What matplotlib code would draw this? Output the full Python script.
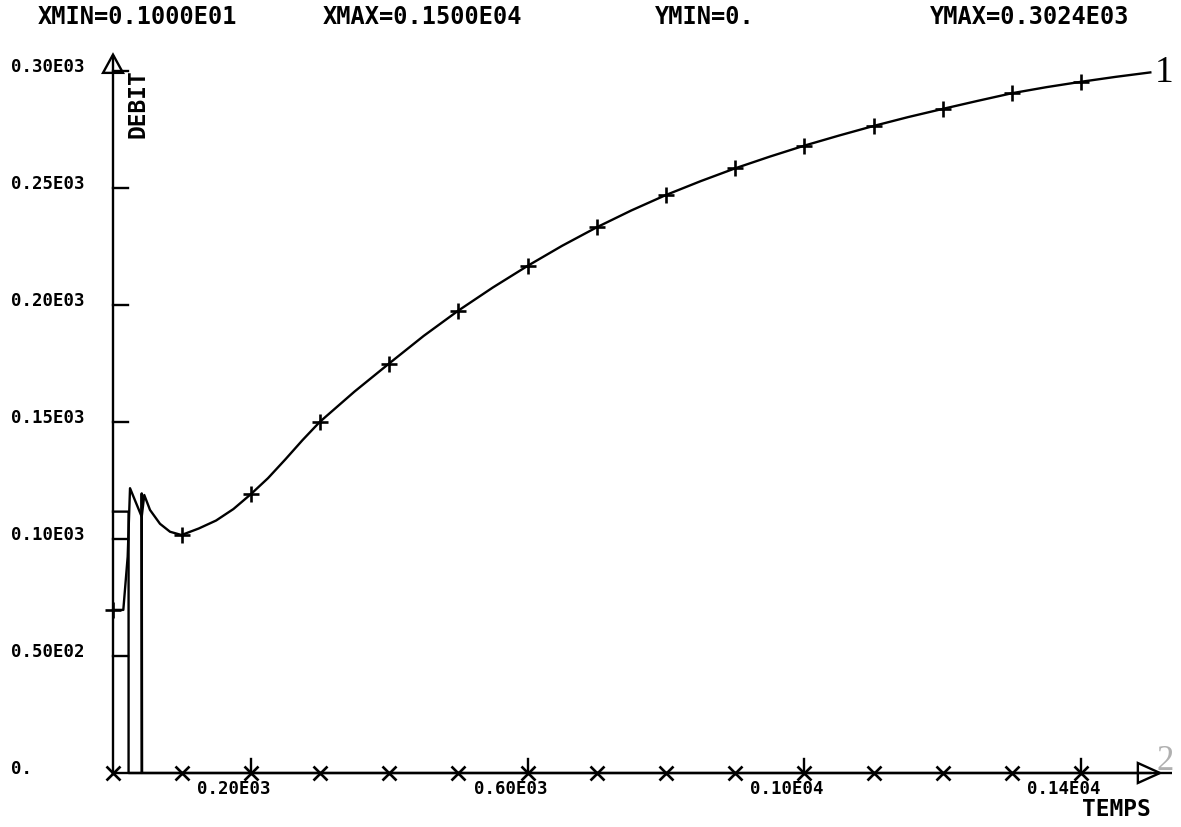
import matplotlib
matplotlib.use("Agg")
import matplotlib.pyplot as plt
from matplotlib.patches import Polygon

HEADER = ["XMIN=0.1000E01", "XMAX=0.1500E04", "YMIN=0.", "YMAX=0.3024E03"]
HEADER_X = [38, 323, 655, 930]          # left edge, pixels

# curve 1: DEBIT vs TEMPS
t1 = [1, 15.9, 22.2, 25.6, 42.5, 46.2, 54.5, 68.9, 83.4, 100, 125, 150, 175,
      200, 225, 250, 275, 300, 350, 400, 450, 500, 550, 600, 650, 700, 750,
      800, 850, 900, 950, 1000, 1050, 1100, 1150, 1200, 1250, 1300, 1350,
      1400, 1450, 1500]
v1 = [69.7, 69.7, 92.4, 121.7, 109.5, 118.8, 112.4, 106.5, 103.1, 101.7,
      104.5, 107.9, 112.8, 119.1, 126.0, 134.0, 142.3, 150.1, 163.0, 175.0,
      186.8, 197.6, 207.5, 216.7, 225.3, 233.2, 240.4, 247.0, 252.9, 258.4,
      263.4, 268.1, 272.4, 276.5, 280.3, 283.8, 287.2, 290.5, 293.1, 295.4,
      297.5, 299.4]

# curve 2: drops to zero after the first instants
t2 = [1, 23.5, 23.5, 42.5, 42.5, 43, 1500]
v2 = [111.7, 111.7, 0, 0, 119.5, 0, 0]

# symbols drawn every 100 time units
mark_t = [1, 100, 200, 300, 400, 500, 600, 700, 800, 900, 1000, 1100, 1200,
          1300, 1400]
mark_v1 = [69.7, 101.7, 119.1, 150.1, 175.0, 197.6, 216.7, 233.2, 247.0,
           258.4, 268.1, 276.5, 283.8, 290.5, 295.4]
mark_v2 = [0] * len(mark_t)

y_ticks = [0, 50, 100, 150, 200, 250, 300]
y_labels = ["0.", "0.50E02", "0.10E03", "0.15E03", "0.20E03", "0.25E03", "0.30E03"]
x_ticks = [200, 600, 1000, 1400]
x_labels = ["0.20E03", "0.60E03", "0.10E04", "0.14E04"]

# ── Page geometry: plotter frame in pixels ───────────────────────────────────

W, H = 1181, 827
X0_PX, Y0_PX = 113, 773      # where (t=1, debit=0) sits
SX, SY = 0.692, 2.34         # pixels per unit
TX = 1 / SX                  # units per pixel
TY = 1 / SY

fig = plt.figure(figsize=(W / 100, H / 100), dpi=100, facecolor="white")
ax = fig.add_axes([0, 0, 1, 1])
ax.set_xlim(1 - X0_PX * TX, 1 + (W - X0_PX) * TX)
ax.set_ylim(-(H - Y0_PX) * TY, Y0_PX * TY)
ax.axis("off")

MONO = "DejaVu Sans Mono"
LW = 1.7

# axes
y_top = 307
x_end = 1531
ax.plot([1, 1], [0, y_top], color="black", lw=LW, solid_capstyle="butt")
ax.plot([1, x_end], [0, 0], color="black", lw=LW, solid_capstyle="butt")

# arrow heads (open triangles)
ax.add_patch(Polygon([[1 - 10 * TX, 299.2], [1, y_top], [1 + 10 * TX, 299.2]],
                     closed=True, fill=False, ec="black", lw=LW))
ax.add_patch(Polygon([[1482, -10 * TY], [1514, 0], [1482, 10 * TY]],
                     closed=True, fill=False, ec="black", lw=LW))

# ticks
for yv in y_ticks[1:]:
    ax.plot([1, 1 + 15 * TX], [yv, yv], color="black", lw=LW)
for xv in x_ticks:
    ax.plot([xv, xv], [0, 14 * TY], color="black", lw=LW)

# tick labels
for yv, lab in zip(y_ticks, y_labels):
    ax.text(1 - 102 * TX, yv + 4 * TY, lab, fontsize=12.5, family=MONO,
            fontweight="bold", ha="left", va="center")
for xv, lab in zip(x_ticks, x_labels):
    ax.text(xv - 54 * TX, -16 * TY, lab, fontsize=12.5, family=MONO,
            fontweight="bold", ha="left", va="center")

# axis titles
ax.text(1 + 25 * TX, 300 - 33 * TY, "DEBIT", rotation=90, fontsize=16.5,
        family=MONO, fontweight="bold", ha="center", va="center")
ax.text(1 + 1003 * TX, -37 * TY, "TEMPS", fontsize=16.5, family=MONO,
        fontweight="bold", ha="center", va="center")

# curves
ax.plot(t1, v1, color="black", lw=LW)
ax.plot(t2, v2, color="black", lw=LW)
ax.plot(mark_t, mark_v1, ls="none", marker="+", ms=11, mew=1.9, color="black")
ax.plot(mark_t, mark_v2, ls="none", marker="x", ms=10, mew=1.9, color="black")

# curve numbers
ax.text(1500 + 4 * TX, v1[-1], "1", fontsize=27, family="Liberation Serif",
        ha="left", va="center")
ax.text(1500 + 6 * TX, 12 * TY, "2", fontsize=25, family="Liberation Serif",
        color="#b0b0b0", ha="left", va="center")

# header line
for x, s in zip(HEADER_X, HEADER):
    fig.text(x / W, 1 - 17 / H, s, fontsize=17, family=MONO,
             fontweight="bold", ha="left", va="center")

fig.savefig("out.png", dpi=100, facecolor="white")
